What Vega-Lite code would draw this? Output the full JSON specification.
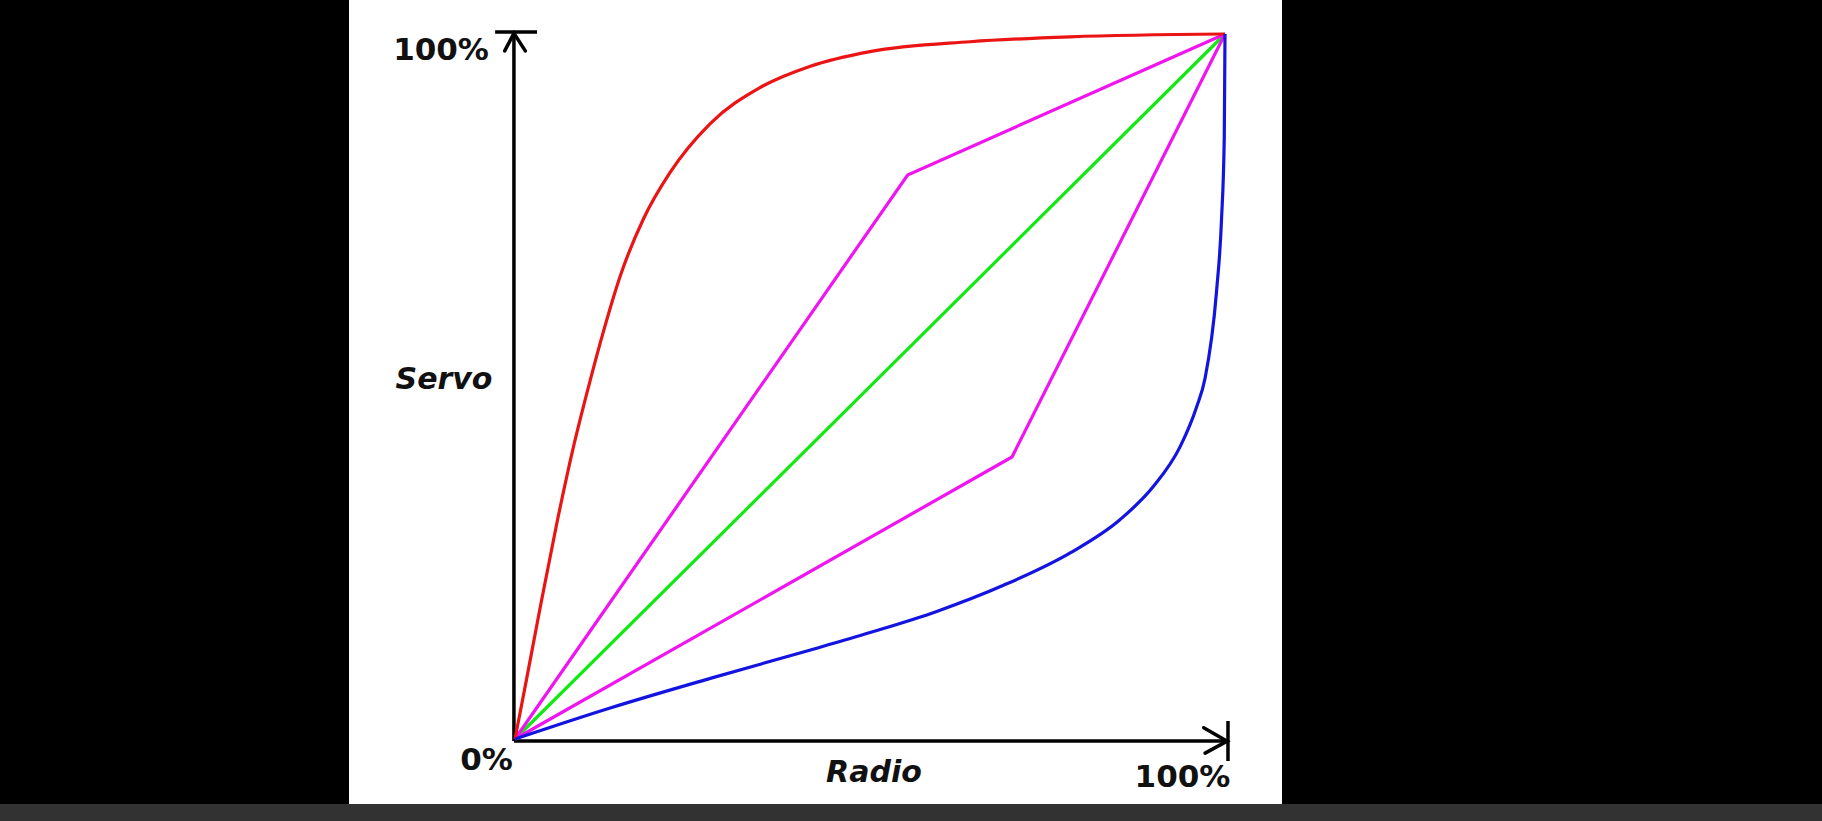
{
  "$schema": "https://vega.github.io/schema/vega-lite/v6.json",
  "autosize": {"type": "none"},
  "width": 710,
  "height": 705,
  "padding": {"left": 515, "top": 34, "right": 597, "bottom": 82},
  "background": "#000000",
  "config": {"view": {"stroke": null}},
  "datasets": {
    "panel": [
      {"part": "white", "x": -23.38, "x2": 108.03, "y": 104.82, "y2": -9.22},
      {"part": "bar", "x": -72.6, "x2": 184.2, "y": -9.22, "y2": -11.7}
    ],
    "curves": [
      {"series": "red", "i": 0, "x": 0, "y": 0},
      {"series": "red", "i": 1, "x": 1.65, "y": 8.6},
      {"series": "red", "i": 2, "x": 3.52, "y": 18.5},
      {"series": "red", "i": 3, "x": 5.87, "y": 30.5},
      {"series": "red", "i": 4, "x": 8.2, "y": 41.3},
      {"series": "red", "i": 5, "x": 10.6, "y": 50.9},
      {"series": "red", "i": 6, "x": 12.4, "y": 57.6},
      {"series": "red", "i": 7, "x": 14.8, "y": 65.6},
      {"series": "red", "i": 8, "x": 18.1, "y": 73.8},
      {"series": "red", "i": 9, "x": 21.8, "y": 80.3},
      {"series": "red", "i": 10, "x": 27.5, "y": 87.3},
      {"series": "red", "i": 11, "x": 34.5, "y": 92.4},
      {"series": "red", "i": 12, "x": 41.5, "y": 95.4},
      {"series": "red", "i": 13, "x": 50.0, "y": 97.5},
      {"series": "red", "i": 14, "x": 64.1, "y": 98.9},
      {"series": "red", "i": 15, "x": 78.2, "y": 99.6},
      {"series": "red", "i": 16, "x": 100, "y": 100},
      {"series": "blue", "i": 0, "x": 0, "y": 0},
      {"series": "blue", "i": 1, "x": 13.4, "y": 4.4},
      {"series": "blue", "i": 2, "x": 27.5, "y": 8.6},
      {"series": "blue", "i": 3, "x": 41.5, "y": 12.6},
      {"series": "blue", "i": 4, "x": 50.0, "y": 15.1},
      {"series": "blue", "i": 5, "x": 59.4, "y": 18.1},
      {"series": "blue", "i": 6, "x": 68.8, "y": 21.8},
      {"series": "blue", "i": 7, "x": 78.2, "y": 26.4},
      {"series": "blue", "i": 8, "x": 85.2, "y": 31.1},
      {"series": "blue", "i": 9, "x": 89.9, "y": 35.8},
      {"series": "blue", "i": 10, "x": 93.7, "y": 41.5},
      {"series": "blue", "i": 11, "x": 96.0, "y": 47.1},
      {"series": "blue", "i": 12, "x": 97.2, "y": 51.2},
      {"series": "blue", "i": 13, "x": 98.8, "y": 63.4},
      {"series": "blue", "i": 14, "x": 99.5, "y": 73.5},
      {"series": "blue", "i": 15, "x": 99.9, "y": 85.5},
      {"series": "blue", "i": 16, "x": 100, "y": 100}
    ],
    "straight": [
      {"series": "green", "i": 0, "x": 0, "y": 0},
      {"series": "green", "i": 1, "x": 100, "y": 100},
      {"series": "magenta_up", "i": 0, "x": 0, "y": 0},
      {"series": "magenta_up", "i": 1, "x": 55.3, "y": 80},
      {"series": "magenta_up", "i": 2, "x": 100, "y": 100},
      {"series": "magenta_down", "i": 0, "x": 0, "y": 0},
      {"series": "magenta_down", "i": 1, "x": 70, "y": 40},
      {"series": "magenta_down", "i": 2, "x": 100, "y": 100}
    ],
    "axes": [
      {"x": -0.15, "y": -0.3, "x2": -0.15, "y2": 100.3},
      {"x": -2.8, "y": 100.3, "x2": 3.1, "y2": 100.3},
      {"x": -0.15, "y": -0.3, "x2": 100.42, "y2": -0.3},
      {"x": 100.42, "y": 2.55, "x2": 100.42, "y2": -3.12}
    ],
    "arrows": [
      {"arrow": "top", "i": 0, "x": -1.45, "y": 97.6},
      {"arrow": "top", "i": 1, "x": -0.15, "y": 100.1},
      {"arrow": "top", "i": 2, "x": 1.45, "y": 97.6},
      {"arrow": "right", "i": 0, "x": 97.0, "y": 1.6},
      {"arrow": "right", "i": 1, "x": 100.3, "y": -0.3},
      {"arrow": "right", "i": 2, "x": 97.2, "y": -2.0}
    ],
    "labels": [
      {"kind": "tick", "text": "100%", "x": -10.42, "y": 97.6},
      {"kind": "tick", "text": "0%", "x": -4.01, "y": -3.12},
      {"kind": "tick", "text": "100%", "x": 94.01, "y": -5.53},
      {"kind": "title", "text": "Servo", "x": -10.0, "y": 50.9},
      {"kind": "title", "text": "Radio", "x": 50.56, "y": -4.89}
    ]
  },
  "resolve": {"scale": {"color": "independent"}},
  "layer": [
    {
      "data": {"name": "panel"},
      "mark": {"type": "rect"},
      "encoding": {
        "x": {"field": "x", "type": "quantitative", "scale": {"domain": [0, 100], "nice": false, "zero": false}, "axis": null},
        "x2": {"field": "x2"},
        "y": {"field": "y", "type": "quantitative", "scale": {"domain": [0, 100], "nice": false, "zero": false}, "axis": null},
        "y2": {"field": "y2"},
        "color": {"field": "part", "type": "nominal", "scale": {"domain": ["white", "bar"], "range": ["#ffffff", "#323232"]}, "legend": null}
      }
    },
    {
      "data": {"name": "axes"},
      "mark": {"type": "rule", "color": "#000000", "strokeWidth": 3.5},
      "encoding": {
        "x": {"field": "x", "type": "quantitative"},
        "x2": {"field": "x2"},
        "y": {"field": "y", "type": "quantitative"},
        "y2": {"field": "y2"}
      }
    },
    {
      "data": {"name": "arrows"},
      "mark": {"type": "line", "color": "#000000", "strokeWidth": 3.5, "strokeCap": "round", "strokeJoin": "miter"},
      "encoding": {
        "x": {"field": "x", "type": "quantitative"},
        "y": {"field": "y", "type": "quantitative"},
        "detail": {"field": "arrow", "type": "nominal"},
        "order": {"field": "i", "type": "quantitative"}
      }
    },
    {
      "data": {"name": "straight"},
      "mark": {"type": "line", "strokeWidth": 3.2},
      "encoding": {
        "x": {"field": "x", "type": "quantitative"},
        "y": {"field": "y", "type": "quantitative"},
        "detail": {"field": "series", "type": "nominal"},
        "order": {"field": "i", "type": "quantitative"},
        "color": {"field": "series", "type": "nominal", "scale": {"domain": ["green", "magenta_up", "magenta_down"], "range": ["#12e812", "#f014f0", "#f014f0"]}, "legend": null}
      }
    },
    {
      "data": {"name": "curves"},
      "mark": {"type": "line", "strokeWidth": 3.2, "interpolate": "monotone"},
      "encoding": {
        "x": {"field": "x", "type": "quantitative"},
        "y": {"field": "y", "type": "quantitative"},
        "detail": {"field": "series", "type": "nominal"},
        "order": {"field": "i", "type": "quantitative"},
        "color": {"field": "series", "type": "nominal", "scale": {"domain": ["red", "blue"], "range": ["#ea1414", "#1414e0"]}, "legend": null}
      }
    },
    {
      "data": {"name": "labels"},
      "transform": [{"filter": "datum.kind === 'tick'"}],
      "mark": {"type": "text", "font": "DejaVu Sans", "fontWeight": "bold", "fontSize": 31, "color": "#111111", "align": "center", "baseline": "middle"},
      "encoding": {
        "x": {"field": "x", "type": "quantitative"},
        "y": {"field": "y", "type": "quantitative"},
        "text": {"field": "text"}
      }
    },
    {
      "data": {"name": "labels"},
      "transform": [{"filter": "datum.kind === 'title'"}],
      "mark": {"type": "text", "font": "DejaVu Sans", "fontWeight": "bold", "fontStyle": "italic", "fontSize": 30, "color": "#111111", "align": "center", "baseline": "middle"},
      "encoding": {
        "x": {"field": "x", "type": "quantitative"},
        "y": {"field": "y", "type": "quantitative"},
        "text": {"field": "text"}
      }
    }
  ]
}
